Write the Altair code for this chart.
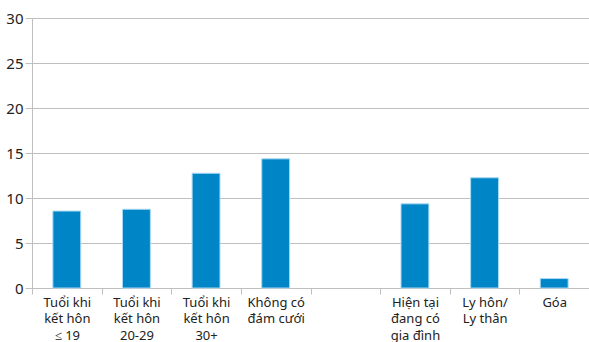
import altair as alt
import pandas as pd

categories = [
    "Tuổi khi|kết hôn|≤ 19",
    "Tuổi khi|kết hôn|20-29",
    "Tuổi khi|kết hôn|30+",
    "Không có|đám cưới",
    " ",
    "Hiện tại|đang có|gia đình",
    "Ly hôn/|Ly thân",
    "Góa",
]
values = [8.55, 8.75, 12.75, 14.35, None, 9.35, 12.25, 1.05]

df = pd.DataFrame({"cat": categories, "val": values})

chart = (
    alt.Chart(df)
    .mark_bar(
        width=alt.RelativeBandSize(0.4),
        color="#0085c7",
        stroke="#a9d9f2",
        strokeWidth=1,
    )
    .encode(
        x=alt.X(
            "cat:N",
            sort=categories,
            scale=alt.Scale(domain=categories, paddingInner=0, paddingOuter=0),
            axis=alt.Axis(
                title=None,
                labelAngle=0,
                labelExpr="split(datum.label, '|')",
                labelLineHeight=16.5,
                labelFontSize=13,
                labelFont="Noto Sans",
                labelColor="#222222",
                labelPadding=2,
                labelBaseline="top",
                tickBand="extent",
                tickSize=6,
                tickColor="#bfbfbf",
                domainColor="#bfbfbf",
                grid=False,
            ),
        ),
        y=alt.Y(
            "val:Q",
            scale=alt.Scale(domain=[0, 30], nice=False),
            axis=alt.Axis(
                title=None,
                values=[0, 5, 10, 15, 20, 25, 30],
                labelFontSize=15,
                labelFont="Noto Sans",
                labelColor="#222222",
                labelPadding=2,
                tickSize=7,
                tickColor="#bfbfbf",
                domainColor="#bfbfbf",
                gridColor="#bfbfbf",
                gridWidth=1,
            ),
        ),
    )
    .properties(
        width=557,
        height=270,
        autosize=alt.AutoSizeParams(type="none"),
        padding={"left": 32, "top": 18, "right": 0, "bottom": 54},
    )
    .configure_view(stroke=None)
)

chart.save("out.html", embed_options={"renderer": "svg", "actions": False})
